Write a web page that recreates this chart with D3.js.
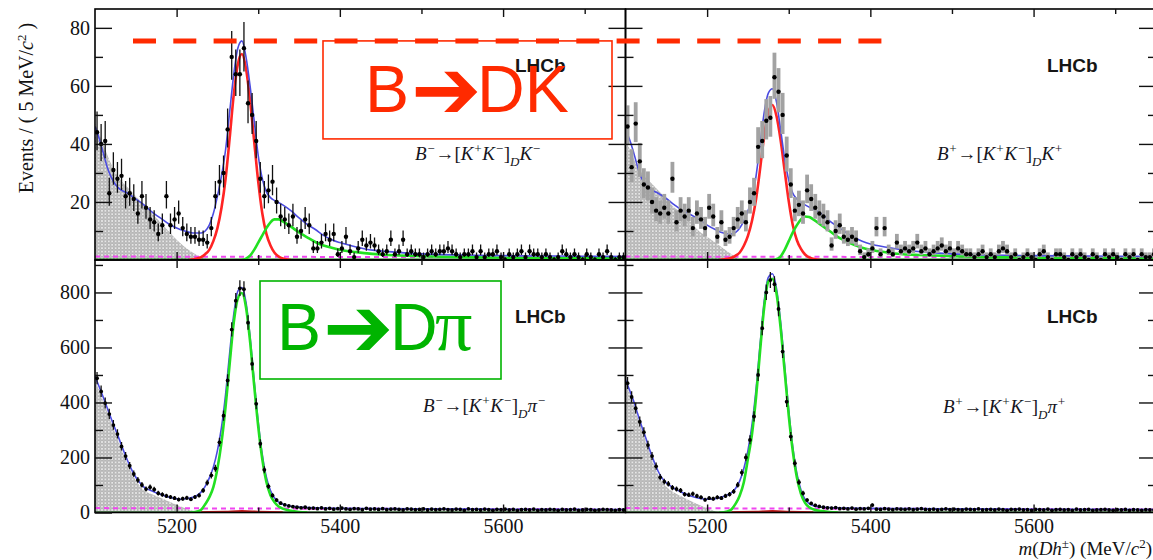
<!DOCTYPE html>
<html>
<head>
<meta charset="utf-8">
<title>B → D h, D → K+K−</title>
<script src="https://cdn.jsdelivr.net/npm/d3@7/dist/d3.min.js"></script>
<style>
  html,body{margin:0;padding:0;background:#fff;}
  svg{display:block;background:#fff;}
  .tick text{font-family:"Liberation Serif","Times New Roman",serif;font-size:20px;fill:#111;}
  .tick line{stroke:#111;stroke-width:1.4;}
</style>
</head>
<body>
<svg id="chart" width="1153" height="560"></svg>
<script>
// ---------------- binning ----------------
const massMin = 5100, massMax = 5750, binWidth = 5;

// ---------------- events per 5 MeV/c^2 bin ----------------
const countsBmKK_K = [44,40,41,23,31,28,29,22,23,21, 16,22,18,14,13,9,12,22,12,14,
  16,11,9,8,8,7,7,6,11,22, 27,30,45,70,64,64,73,54,50,41, 28,22,24,27,20,15,14,12,15,8,
  10,14,12,4,4,6,9,7,9,2, 4,8,3,1,4,7,5,6,5,3, 2,3,7,2,3,7,2,3,2,2,
  1,2,3,2,3,3,4,3,2,1, 2,2,3,1,3,1,2,2,3,1, 0,2,1,2,3,1,3,2,2,1,
  2,1,0,1,3,2,1,2,1,0, 2,1,0,2,1,3,1,0,1,1];
const countsBpKK_K = [46,32,47,34,26,25,20,17,16,18, 16,28,13,17,15,17,11,16,14,11,
  18,15,8,13,7,8,11,14,16,13, 20,23,39,41,48,49,63,58,50,36, 26,17,19,16,24,21,18,16,15,13,
  5,10,12,8,7,8,7,3,1,2, 4,11,2,11,3,2,6,3,4,3, 4,6,3,4,2,3,4,5,3,4,
  2,4,3,2,2,1,2,3,1,2, 1,3,4,3,1,2,0,1,2,1, 0,2,3,1,0,2,2,1,0,2,
  1,2,1,0,2,1,0,2,1,2, 1,0,2,1,2,0,2,1,1,2];
const countsBmKK_pi = [488,440,398,358,318,285,240,205,170,140, 118,100,85,92,84,70,65,60,56,52,
  47,50,53,48,56,62,80,108,135,160, 255,352,480,665,770,815,812,690,540,395,
  250,155,95,62,45,34,28,24,21,19, 17,19,15,16,14,17,13,15,12,14, 16,13,11,14,13,10,15,12,13,11,
  14,10,12,13,11,9,13,12,10,11, 13,9,12,10,11,13,10,9,12,11, 8,13,10,11,9,12,10,8,11,10,
  12,9,11,8,10,11,9,12,8,10, 9,11,10,8,11,9,10,12,8,9, 11,10,8,9,11,10,9,8,10,9];
const countsBpKK_pi = [470,420,379,330,292,245,205,168,128,112, 104,90,85,80,66,64,68,60,55,46,
  52,50,55,52,60,66,76,100,145,200, 264,349,500,670,800,845,830,740,585,403,
  276,179,110,70,45,33,26,22,19,17, 16,18,14,15,13,16,12,14,13,15, 27,12,11,14,12,10,13,12,11,13,
  10,12,14,11,10,12,9,11,13,10, 12,10,9,12,11,10,13,9,10,11, 9,12,10,8,11,10,12,9,10,8,
  11,10,9,12,8,10,11,9,10,8, 12,9,10,11,8,9,10,11,9,8, 10,9,11,8,10,9,8,10,9,9];

// ---------------- fit projections: [mass, events] ----------------
const fitTotalBmK = [[5100,46],[5105,42],[5110,37],[5115,32],[5120,28.5],[5125,26],[5130,24.5],[5140,23],
  [5150,21],[5160,19],[5170,16.5],[5180,14.5],[5190,12.5],[5200,11],[5210,10],[5220,9.3],[5230,9.3],
  [5235,10],[5240,12],[5245,16],[5250,22],[5255,29],[5260,38],[5265,51],[5270,64],[5275,73],[5280,75.5],
  [5285,70],[5290,60],[5295,48],[5300,36],[5305,28],[5310,23.5],[5315,21.5],[5320,20.5],[5330,19],
  [5340,17],[5350,14.5],[5360,12.3],[5370,10.5],[5380,8.5],[5390,7],[5400,6],[5420,4.5],[5440,3.4],
  [5460,2.9],[5500,2.1],[5550,1.7],[5600,1.5],[5700,1.3],[5750,1.2]];
const fitSignalBmK = [[5215,0],[5225,0.5],[5230,1],[5235,2],[5240,3.5],[5245,6.5],[5250,11],[5255,18],
  [5260,28],[5265,42],[5270,57],[5275,67.5],[5280,71],[5285,66],[5290,55],[5295,41],[5300,27],[5305,16],
  [5310,9],[5315,5],[5320,2.5],[5325,1.2],[5330,0.5],[5340,0]];
const fitMisIdBmK = [[5280,0],[5285,0.5],[5290,1.5],[5295,3.5],[5300,6],[5305,8.5],[5310,11],[5315,13],
  [5320,14],[5325,14],[5330,13.3],[5340,11.5],[5350,9.5],[5360,7.8],[5370,6.2],[5380,5],[5390,4.2],
  [5400,3.5],[5420,2.7],[5440,2.1],[5460,1.7],[5500,1.3],[5550,1],[5600,0.8],[5700,0.6],[5750,0.5]];
const partRecoBmK = [[5100,47],[5110,40],[5120,33],[5130,28],[5140,25],[5150,22],[5160,19],[5170,16],
  [5180,13],[5190,10],[5200,7],[5210,4.5],[5220,2.5],[5230,1],[5240,0]];

const fitTotalBpK = [[5100,45],[5105,41.5],[5110,37],[5115,32],[5120,28],[5125,26],[5130,24.5],[5140,23],
  [5150,21.2],[5160,19],[5170,17],[5180,15.6],[5190,14],[5200,12],[5210,10.5],[5220,9.3],[5230,9],
  [5235,9.5],[5240,11],[5245,13.5],[5250,17],[5255,21],[5260,29],[5265,40],[5270,51],[5275,57.5],
  [5280,59],[5285,54.5],[5290,45],[5295,35],[5300,27.5],[5305,23],[5310,21],[5320,19],[5330,17.5],
  [5340,16],[5350,13.5],[5360,11.5],[5370,9.5],[5380,7.8],[5390,6.5],[5400,5.5],[5420,4.4],[5440,3.5],
  [5460,2.9],[5500,2.1],[5550,1.7],[5600,1.5],[5700,1.3],[5750,1.2]];
const fitSignalBpK = [[5215,0],[5225,0.4],[5230,0.8],[5235,1.5],[5240,2.6],[5245,4.9],[5250,8.3],
  [5255,13.5],[5260,21],[5265,31.6],[5270,43],[5275,50.8],[5280,53.4],[5285,49.6],[5290,41.4],
  [5295,30.8],[5300,20.3],[5305,12],[5310,6.8],[5315,3.8],[5320,1.9],[5325,0.9],[5330,0.4],[5340,0]];
const fitMisIdBpK = [[5280,0],[5285,0.3],[5290,1.2],[5295,3.5],[5300,6.5],[5305,9.5],[5310,12],[5315,14],
  [5320,15],[5325,14.8],[5330,14],[5340,12],[5350,10],[5360,8],[5370,6.5],[5380,5.2],[5390,4.2],
  [5400,3.5],[5420,2.6],[5440,2],[5460,1.7],[5500,1.3],[5550,1],[5600,0.8],[5700,0.6],[5750,0.5]];
const partRecoBpK = [[5100,42],[5110,35],[5120,30],[5130,27],[5140,24],[5150,21],[5160,18],[5170,16],
  [5180,13],[5190,10],[5200,8],[5210,6],[5220,4],[5230,2],[5240,0]];

const fitTotalBmPi = [[5100,495],[5105,458],[5110,420],[5115,380],[5120,340],[5125,302],[5130,264],
  [5135,225],[5140,188],[5145,155],[5150,128],[5155,108],[5160,92],[5165,84],[5170,78],[5180,66],
  [5190,56],[5200,50],[5205,48],[5210,50],[5215,52],[5220,55],[5225,62],[5230,74],[5235,95],[5240,125],
  [5245,165],[5250,225],[5255,310],[5260,430],[5265,580],[5270,720],[5275,805],[5280,818],[5285,765],
  [5290,640],[5295,480],[5300,330],[5305,210],[5310,128],[5315,80],[5320,53],[5325,38],[5330,30],
  [5340,23],[5350,20],[5370,17],[5400,15],[5450,14],[5500,13],[5600,12],[5750,11]];
const fitSignalBmPi = [[5215,0],[5220,1],[5225,4],[5230,10],[5235,30],[5240,55],[5245,92],[5250,160],
  [5255,255],[5260,385],[5265,540],[5270,690],[5275,778],[5280,798],[5285,746],[5290,622],[5295,463],
  [5300,312],[5305,193],[5310,111],[5315,63],[5320,37],[5325,22],[5330,14],[5340,6],[5350,2],[5360,0]];
const partRecoBmPi = [[5100,480],[5105,445],[5110,405],[5115,365],[5120,325],[5125,287],[5130,250],
  [5135,212],[5140,176],[5145,144],[5150,117],[5155,96],[5160,80],[5170,66],[5180,54],[5190,41],
  [5200,28],[5210,16],[5220,6],[5227,0]];

const fitTotalBpPi = [[5100,482],[5105,445],[5110,405],[5115,358],[5120,312],[5125,270],[5130,225],
  [5135,185],[5140,150],[5145,124],[5150,108],[5155,97],[5160,87],[5170,72],[5180,60],[5190,52],
  [5200,48],[5210,50],[5215,54],[5220,58],[5225,64],[5230,72],[5235,88],[5240,115],[5245,160],
  [5250,225],[5255,320],[5260,450],[5265,615],[5270,770],[5275,855],[5280,868],[5285,815],[5290,695],
  [5295,535],[5300,372],[5305,238],[5310,142],[5315,82],[5320,48],[5325,32],[5330,25],[5340,20],
  [5350,18],[5370,16],[5400,15],[5450,14],[5500,13],[5600,12],[5750,11]];
const fitSignalBpPi = [[5215,0],[5220,1],[5225,4],[5230,12],[5235,32],[5240,62],[5245,110],[5250,195],
  [5255,285],[5260,420],[5265,590],[5270,748],[5275,840],[5280,850],[5285,797],[5290,673],[5295,513],
  [5300,353],[5305,222],[5310,127],[5315,68],[5320,35],[5325,19],[5330,12],[5340,5],[5350,2],[5360,0]];
const partRecoBpPi = [[5100,472],[5105,438],[5110,392],[5115,345],[5120,300],[5125,258],[5130,214],
  [5135,172],[5140,137],[5145,110],[5150,94],[5160,72],[5170,56],[5180,42],[5190,28],[5200,15],
  [5210,4],[5215,0]];

// combinatorial background and remaining small components
const combK = [[5100,1.2],[5750,0.9]];
const combPi = [[5100,16],[5750,11]];
const residualBkg = [[5100,0.15],[5750,0.15]];
const misIdKinPi = [[5230,0],[5260,2],[5280,4],[5300,2],[5330,0]];

// ---------------- axis ticks ----------------
const massMajor = [5200, 5400, 5600];
const massMinor = [5300, 5500, 5700];
const kMajor = [20, 40, 60, 80], kMinor = [10, 30, 50, 70];
const piMajor = [0, 200, 400, 600, 800], piMinor = [100, 300, 500, 700, 900];

// ---------------- layout ----------------
const svg = d3.select("#chart");
const W = 1153, H = 560;
const fL = 95, fM = 625.5, fR = 1156, fT = 9, fMid = 260, fB = 512.5;
const xLeft = d3.scaleLinear().domain([massMin, massMax]).range([fL, fM]);
const xRight = d3.scaleLinear().domain([massMin, massMax]).range([fM, fR]);
const yK = d3.scaleLinear().domain([0, 86.5]).range([fMid, fT]);
const yPi = d3.scaleLinear().domain([0, 918]).range([fB, fMid]);

const RED = "#ff2424", GREEN = "#22e022", BLUE = "#4b4be0", MAGENTA = "#f046f0", DKGREEN = "#0b6b0b";
const NOTE_RED = "#ff2a00", NOTE_GREEN = "#00b400";

svg.append("rect").attr("width", W).attr("height", H).attr("fill", "#fff");

const defs = svg.append("defs");
const pat = defs.append("pattern").attr("id", "dotfill").attr("patternUnits", "userSpaceOnUse")
  .attr("width", 3.4).attr("height", 3.4);
pat.append("rect").attr("width", 3.4).attr("height", 3.4).attr("fill", "#e6e6e6");
pat.append("circle").attr("cx", 1.7).attr("cy", 1.7).attr("r", 1.15)
  .attr("fill", "none").attr("stroke", "#808080").attr("stroke-width", 0.6);

const panels = [
  { id: "bmK", x: xLeft, y: yK, counts: countsBmKK_K, total: fitTotalBmK, shade: partRecoBmK, comb: combK,
    parts: [{ d: fitSignalBmK, c: RED }, { d: fitMisIdBmK, c: GREEN }], totalOnTop: true, err: "line",
    yMaj: kMajor, yMin: kMinor, yLabels: true, xLabels: false, lhcb: [515, 71.7],
    decay: { x: 415, y: 160, parts: [["B",""],["−","sup"],["→","n"],["[","n"],["K",""],["+","sup"],["K",""],["−","sup"],["]","n"],["D","sub"],["K",""],["−","sup"]] } },
  { id: "bpK", x: xRight, y: yK, counts: countsBpKK_K, total: fitTotalBpK, shade: partRecoBpK, comb: combK,
    parts: [{ d: fitSignalBpK, c: RED }, { d: fitMisIdBpK, c: GREEN }], totalOnTop: true, err: "box",
    yMaj: kMajor, yMin: kMinor, yLabels: false, xLabels: false, lhcb: [1047, 71.7],
    decay: { x: 937, y: 160, parts: [["B",""],["+","sup"],["→","n"],["[","n"],["K",""],["+","sup"],["K",""],["−","sup"],["]","n"],["D","sub"],["K",""],["+","sup"]] } },
  { id: "bmPi", x: xLeft, y: yPi, counts: countsBmKK_pi, total: fitTotalBmPi, shade: partRecoBmPi, comb: combPi,
    parts: [{ d: misIdKinPi, c: "#c01818" }, { d: fitSignalBmPi, c: GREEN }], totalOnTop: false, err: "line",
    yMaj: piMajor, yMin: piMinor, yLabels: true, xLabels: true, lhcb: [515, 322.7],
    decay: { x: 423, y: 412, parts: [["B",""],["−","sup"],["→","n"],["[","n"],["K",""],["+","sup"],["K",""],["−","sup"],["]","n"],["D","sub"],["π",""],["−","sup"]] } },
  { id: "bpPi", x: xRight, y: yPi, counts: countsBpKK_pi, total: fitTotalBpPi, shade: partRecoBpPi, comb: combPi,
    parts: [{ d: misIdKinPi, c: "#c01818" }, { d: fitSignalBpPi, c: GREEN }], totalOnTop: false, err: "line",
    yMaj: piMajor, yMin: piMinor, yLabels: false, xLabels: true, lhcb: [1047, 323],
    decay: { x: 943, y: 413, parts: [["B",""],["+","sup"],["→","n"],["[","n"],["K",""],["+","sup"],["K",""],["−","sup"],["]","n"],["D","sub"],["π",""],["+","sup"]] } }
];

// asymmetric Poisson-style interval for a bin count
function poissonBand(n) {
  const s = Math.sqrt(n + 0.25);
  return [Math.max(0, n + 0.5 - s), n + 0.5 + s];
}

function drawFormula(g, x, y, parts) {
  const t = g.append("text").attr("x", x).attr("y", y)
    .attr("font-family", "'Liberation Serif','Times New Roman',serif")
    .attr("font-style", "italic").attr("fill", "#141420");
  let shift = 0;
  parts.forEach(([s, kind]) => {
    const target = kind === "sup" ? -7 : kind === "sub" ? 6 : 0;
    const ts = t.append("tspan").attr("dy", target - shift)
      .attr("font-size", (kind === "sup" || kind === "sub") ? 13 : 19).text(s);
    if (kind === "n") ts.attr("font-style", "normal");
    shift = target;
  });
}

panels.forEach((p, idx) => {
  const [x0, x1] = p.x.range();
  const [y1, y0] = p.y.range();
  const g = svg.append("g").attr("class", "panel " + p.id);

  defs.append("clipPath").attr("id", "clip-" + p.id)
    .append("rect").attr("x", x0).attr("y", y0).attr("width", x1 - x0).attr("height", y1 - y0);
  const plot = g.append("g").attr("clip-path", `url(#clip-${p.id})`);

  const line = d3.line().x(d => p.x(d[0])).y(d => p.y(d[1])).curve(d3.curveMonotoneX);
  const area = d3.area().x(d => p.x(d[0])).y0(p.y(0)).y1(d => p.y(d[1])).curve(d3.curveMonotoneX);

  // partially reconstructed background
  plot.append("path").datum(p.shade).attr("d", area).attr("fill", "url(#dotfill)");

  // combinatorial and residual components
  plot.append("path").datum(p.comb).attr("d", line).attr("fill", "none")
    .attr("stroke", MAGENTA).attr("stroke-width", 2).attr("stroke-dasharray", "5 4");
  plot.append("path").datum(residualBkg).attr("d", line).attr("fill", "none")
    .attr("stroke", DKGREEN).attr("stroke-width", 2);

  const drawTotal = () => plot.append("path").datum(p.total).attr("d", line).attr("fill", "none")
    .attr("stroke", BLUE).attr("stroke-width", 1.6);
  if (!p.totalOnTop) drawTotal();
  p.parts.forEach(c => {
    plot.append("path").datum(c.d).attr("d", line).attr("fill", "none")
      .attr("stroke", c.c).attr("stroke-width", 2.6);
  });
  if (p.totalOnTop) drawTotal();

  // data points with uncertainties
  const bins = p.counts.map((n, i) => ({ m: massMin + binWidth * (i + 0.5), n, band: poissonBand(n) }));
  if (p.err === "box") {
    plot.append("g").selectAll("rect").data(bins).join("rect")
      .attr("x", d => p.x(d.m) - 1.9).attr("width", 3.8)
      .attr("y", d => p.y(d.band[1])).attr("height", d => p.y(d.band[0]) - p.y(d.band[1]))
      .attr("fill", "#a2a2a2");
  } else {
    plot.append("g").selectAll("line").data(bins).join("line")
      .attr("x1", d => p.x(d.m)).attr("x2", d => p.x(d.m))
      .attr("y1", d => p.y(d.band[0])).attr("y2", d => p.y(d.band[1]))
      .attr("stroke", "#111").attr("stroke-width", 1.3);
  }
  plot.append("g").selectAll("circle").data(bins).join("circle")
    .attr("cx", d => p.x(d.m)).attr("cy", d => p.y(d.n)).attr("r", idx < 2 ? 2.2 : 1.9)
    .attr("fill", "#000");

  // frame
  g.append("rect").attr("x", x0).attr("y", y0).attr("width", x1 - x0).attr("height", y1 - y0)
    .attr("fill", "none").attr("stroke", "#000").attr("stroke-width", 1.6);

  // mass axes (bottom and top), ticks pointing inward
  const fmt = p.xLabels ? d3.format("d") : () => "";
  g.append("g").attr("transform", `translate(0,${y1})`)
    .call(d3.axisBottom(p.x).tickValues(massMajor).tickSizeInner(-8).tickSizeOuter(0).tickPadding(6).tickFormat(fmt));
  g.append("g").attr("transform", `translate(0,${y1})`)
    .call(d3.axisBottom(p.x).tickValues(massMinor).tickSizeInner(-5).tickSizeOuter(0).tickFormat(""));
  g.append("g").attr("transform", `translate(0,${y0})`)
    .call(d3.axisTop(p.x).tickValues(massMajor).tickSizeInner(-8).tickSizeOuter(0).tickFormat(""));
  g.append("g").attr("transform", `translate(0,${y0})`)
    .call(d3.axisTop(p.x).tickValues(massMinor).tickSizeInner(-5).tickSizeOuter(0).tickFormat(""));

  // event axes (left and right), ticks pointing inward
  const yfmt = p.yLabels ? d3.format("d") : () => "";
  const yMajVals = p.yLabels ? p.yMaj : p.yMaj.filter(v => v > 0);
  g.append("g").attr("transform", `translate(${x0},0)`)
    .call(d3.axisLeft(p.y).tickValues(yMajVals).tickSizeInner(-17).tickSizeOuter(0).tickPadding(5).tickFormat(yfmt));
  g.append("g").attr("transform", `translate(${x0},0)`)
    .call(d3.axisLeft(p.y).tickValues(p.yMin).tickSizeInner(-8).tickSizeOuter(0).tickFormat(""));
  g.append("g").attr("transform", `translate(${x1},0)`)
    .call(d3.axisRight(p.y).tickValues(p.yMaj.filter(v => v > 0)).tickSizeInner(-17).tickSizeOuter(0).tickFormat(""));
  g.append("g").attr("transform", `translate(${x1},0)`)
    .call(d3.axisRight(p.y).tickValues(p.yMin).tickSizeInner(-8).tickSizeOuter(0).tickFormat(""));
  g.selectAll(".domain").remove();

  // experiment tag and decay label
  g.append("text").attr("x", p.lhcb[0]).attr("y", p.lhcb[1])
    .attr("font-family", "'Liberation Sans',Arial,sans-serif").attr("font-weight", "bold")
    .attr("font-size", 19).attr("fill", "#151515").text("LHCb");
  drawFormula(g, p.decay.x, p.decay.y, p.decay.parts);
});

// axis titles
const yTitle = svg.append("text").attr("transform", "translate(33,108) rotate(-90)")
  .attr("text-anchor", "middle").attr("font-family", "'Liberation Serif','Times New Roman',serif")
  .attr("font-size", 20).attr("fill", "#111");
yTitle.append("tspan").text("Events / ( 5 MeV/");
yTitle.append("tspan").attr("font-style", "italic").text("c");
yTitle.append("tspan").attr("dy", -7).attr("font-size", 13).text("2");
yTitle.append("tspan").attr("dy", 7).text(" )");

const xTitle = svg.append("text").attr("x", 1152).attr("y", 555).attr("text-anchor", "end")
  .attr("font-family", "'Liberation Serif','Times New Roman',serif").attr("font-size", 19).attr("fill", "#111");
xTitle.append("tspan").attr("font-style", "italic").text("m");
xTitle.append("tspan").text("(");
xTitle.append("tspan").attr("font-style", "italic").text("Dh");
xTitle.append("tspan").attr("dy", -7).attr("font-size", 13).text("±");
xTitle.append("tspan").attr("dy", 7).text(") (MeV/");
xTitle.append("tspan").attr("font-style", "italic").text("c");
xTitle.append("tspan").attr("dy", -7).attr("font-size", 13).text("2");
xTitle.append("tspan").attr("dy", 7).text(")");

// ---------------- annotations ----------------
const notes = svg.append("g").attr("class", "notes");
const peakLevel = d3.max(fitTotalBmK, d => d[1]);
notes.append("line").attr("x1", 133).attr("x2", 882).attr("y1", yK(peakLevel)).attr("y2", yK(peakLevel))
  .attr("stroke", NOTE_RED).attr("stroke-width", 5).attr("stroke-dasharray", "23 17.3");

notes.append("rect").attr("x", 323).attr("y", yK(peakLevel)).attr("width", 289).attr("height", 98)
  .attr("fill", "none").attr("stroke", NOTE_RED).attr("stroke-width", 1.6);
const dk = notes.append("text").attr("font-family", "'Liberation Sans',Arial,sans-serif")
  .attr("font-size", 66).attr("fill", NOTE_RED);
dk.append("tspan").attr("x", 365).attr("y", 112).text("B");
dk.append("tspan").attr("x", 411).attr("y", 118).attr("font-family", "'DejaVu Sans',sans-serif")
  .attr("font-weight", "bold").attr("font-size", 84).text("➔");
dk.append("tspan").attr("x", 477).attr("y", 112).text("DK");

notes.append("rect").attr("x", 260).attr("y", 281).attr("width", 241).attr("height", 98)
  .attr("fill", "none").attr("stroke", NOTE_GREEN).attr("stroke-width", 1.6);
const dpi = notes.append("text").attr("font-family", "'Liberation Sans',Arial,sans-serif")
  .attr("font-size", 66).attr("fill", NOTE_GREEN);
dpi.append("tspan").attr("x", 277).attr("y", 350).text("B");
dpi.append("tspan").attr("x", 323).attr("y", 356).attr("font-family", "'DejaVu Sans',sans-serif")
  .attr("font-weight", "bold").attr("font-size", 84).text("➔");
dpi.append("tspan").attr("x", 390).attr("y", 350).text("D");
dpi.append("tspan").attr("x", 435).attr("y", 350).attr("font-family", "'Liberation Serif','Times New Roman',serif").attr("font-size", 74).text("π");
</script>
</body>
</html>
